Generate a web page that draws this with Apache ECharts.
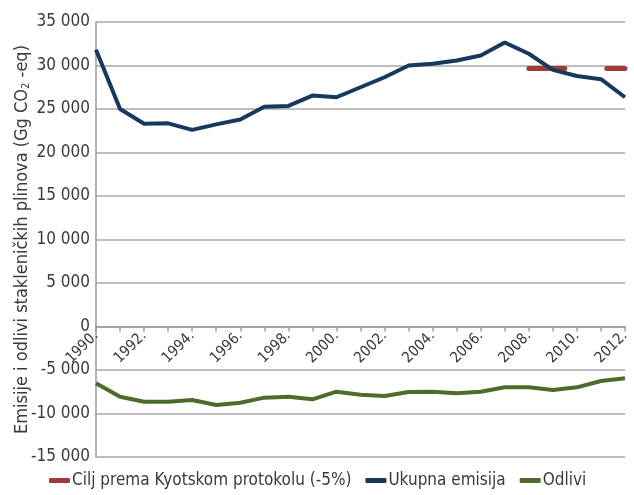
<!DOCTYPE html>
<html>
<head>
<meta charset="utf-8">
<script src="https://cdn.jsdelivr.net/npm/echarts@6/dist/echarts.min.js"></script>
<style>
  html, body { margin: 0; padding: 0; background: #fff; }
  #chart { width: 634px; height: 495px; }
</style>
</head>
<body>
<div id="chart"></div>
<script>
const years = ["1990.", "1991.", "1992.", "1993.", "1994.", "1995.", "1996.", "1997.", "1998.", "1999.",
  "2000.", "2001.", "2002.", "2003.", "2004.", "2005.", "2006.", "2007.", "2008.", "2009.",
  "2010.", "2011.", "2012."];
const ukupnaEmisija = [31800, 25000, 23300, 23350, 22600, 23230, 23800, 25270, 25350, 26540,
  26350, 27500, 28650, 30000, 30200, 30580, 31150, 32650, 31350, 29500,
  28800, 28430, 26350];
const odlivi = [-6530, -8070, -8640, -8640, -8450, -9020, -8760, -8180, -8070, -8370,
  -7490, -7840, -7990, -7530, -7490, -7680, -7490, -6990, -6990, -7300,
  -6990, -6260, -5960];
const kyotoCilj = [null, null, null, null, null, null, null, null, null, null,
  null, null, null, null, null, null, null, null, 29650, 29650,
  29650, 29650, 29650];
const yMin = -15000;
const yMax = 35000;

const fontFamily = "'Liberation Sans Narrow', 'DejaVu Sans Condensed', 'Liberation Sans', sans-serif";
const textColor = "#3a3a3a";
const gridTop = 22;
const gridBottom = 38;
const plotHeight = 495 - gridTop - gridBottom;
// move the category axis up onto the zero line
const zeroOffset = -plotHeight * (0 - yMin) / (yMax - yMin);

function fmtThousands(v) {
  const neg = v < 0;
  const s = String(Math.abs(v)).replace(/\B(?=(\d{3})+(?!\d))/g, " ");
  return (neg ? "-" : "") + s;
}

const chart = echarts.init(document.getElementById("chart"));
chart.setOption({
  animation: false,
  textStyle: { fontFamily: fontFamily },
  grid: { left: 96, right: 9, top: gridTop, bottom: gridBottom, containLabel: false, outerBoundsMode: "none" },
  legend: {
    bottom: 1,
    left: 44,
    itemGap: 14,
    icon: "roundRect",
    itemWidth: 21,
    itemHeight: 5,
    textStyle: { fontFamily: fontFamily, fontSize: 17, color: textColor, padding: [0, 0, 0, -3] },
    data: ["Cilj prema Kyotskom protokolu (-5%)", "Ukupna emisija", "Odlivi"],
  },
  xAxis: {
    type: "category",
    data: years,
    boundaryGap: false,
    offset: zeroOffset,
    axisLine: { onZero: false, lineStyle: { color: "#9a9a9a", width: 1.5 } },
    axisTick: { show: true, interval: 0, length: 5, lineStyle: { color: "#9a9a9a", width: 1.5 } },
    axisLabel: {
      interval: 1,
      rotate: 45,
      fontSize: 15,
      color: textColor,
      fontFamily: fontFamily,
      margin: 7,
    },
    splitLine: { show: false },
  },
  yAxis: {
    type: "value",
    min: yMin,
    max: yMax,
    interval: 5000,
    name: "{a|Emisije i odlivi stakleničkih plinova (Gg CO}{s|2}{a| -eq)}",
    nameLocation: "middle",
    nameGap: 64,
    nameMoveOverlap: false,
    nameTextStyle: {
      rich: {
        a: { fontSize: 18, color: textColor, fontFamily: fontFamily },
        s: { fontSize: 11, color: textColor, fontFamily: fontFamily, verticalAlign: "bottom", padding: [8, 0, 0, 0] },
      },
    },
    axisLine: { show: true, lineStyle: { color: "#9a9a9a", width: 1.5 } },
    axisTick: { show: false },
    axisLabel: {
      fontSize: 17,
      color: textColor,
      fontFamily: fontFamily,
      margin: 6,
      formatter: (v) => fmtThousands(v),
    },
    splitLine: { lineStyle: { color: "#a8a8a8", width: 1.5 } },
  },
  series: [
    {
      name: "Cilj prema Kyotskom protokolu (-5%)",
      type: "line",
      data: kyotoCilj,
      showSymbol: false,
      color: "#a23a3a",
      lineStyle: { width: 5, type: [36, 42], cap: "round" },
    },
    {
      name: "Ukupna emisija",
      type: "line",
      data: ukupnaEmisija,
      showSymbol: false,
      color: "#17395e",
      lineStyle: { width: 4 },
    },
    {
      name: "Odlivi",
      type: "line",
      data: odlivi,
      showSymbol: false,
      color: "#4f6a2b",
      lineStyle: { width: 4 },
    },
  ],
});
</script>
</body>
</html>
